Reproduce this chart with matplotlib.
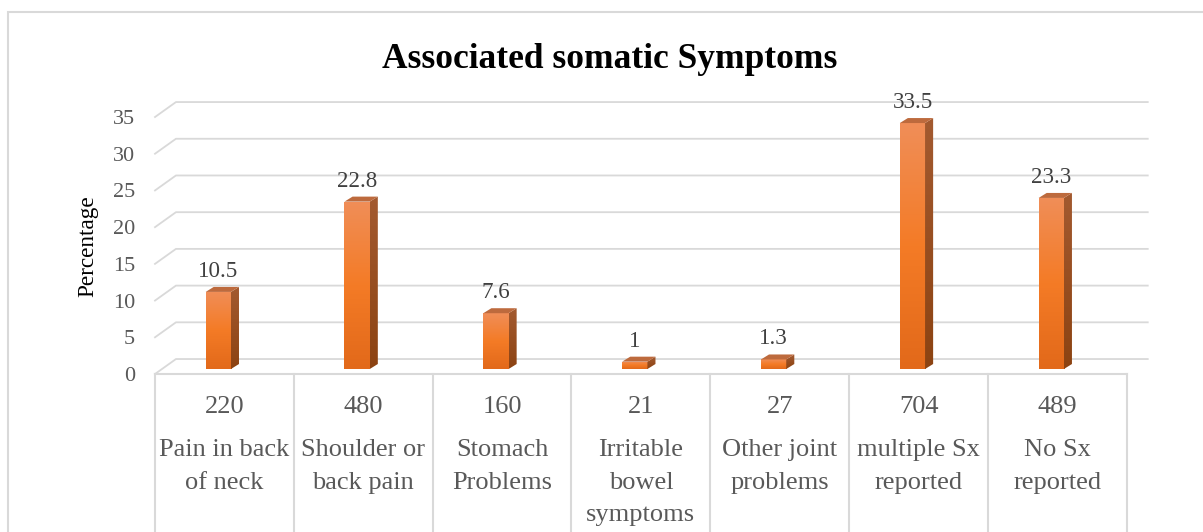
import numpy as np
import matplotlib.pyplot as plt
from matplotlib.patches import Rectangle, Polygon
from matplotlib.colors import LinearSegmentedColormap

categories = ['Pain in back\nof neck', 'Shoulder or\nback pain', 'Stomach\nProblems',
              'Irritable\nbowel\nsymptoms', 'Other joint\nproblems', 'multiple Sx\nreported',
              'No Sx\nreported']
counts = [220, 480, 160, 21, 27, 704, 489]
percent = [10.5, 22.8, 7.6, 1, 1.3, 33.5, 23.3]
yticks = [0, 5, 10, 15, 20, 25, 30, 35]

plt.rcParams['font.family'] = ['Liberation Serif', 'DejaVu Serif']

W, H = 1203, 532
fig = plt.figure(figsize=(W / 100, H / 100), dpi=100)
ax = fig.add_axes([155 / W, (H - 374) / H, (1149 - 155) / W, (374 - 95) / H])

# fake 3d: depth offset of the back wall and of a bar, in data units
DX, DY = 0.151, 2.04
BASE, X0, BW = 0.68, -0.135, 0.182
SD, SH = 0.058, 0.68
grid_c = '#D9D9D9'

for v in yticks:
    ax.plot([-0.5, -0.5 + DX, 6.5 + DX], [v, v + DY, v + DY], color=grid_c, lw=1.3,
            clip_on=False, zorder=1)

# table under the plot
ax.plot([-0.5, 6.5], [0, 0], color=grid_c, lw=1.5, clip_on=False, zorder=1)
for b in np.arange(-0.5, 7):
    ax.plot([b, b], [0, -0.7], color=grid_c, lw=1.5, transform=ax.get_xaxis_transform(),
            clip_on=False, zorder=1)

front_cmap = LinearSegmentedColormap.from_list('front', ['#E2691A', '#F47B26', '#F08E58'])
side_cmap = LinearSegmentedColormap.from_list('side', ['#8C4312', '#A35A30'])
grad = np.linspace(0, 1, 256).reshape(-1, 1)

for i, v in enumerate(percent):
    x0 = i + X0
    x1 = x0 + BW
    y0 = BASE
    y1 = BASE + v
    front = Rectangle((x0, y0), BW, v, facecolor='none', edgecolor='none', zorder=3)
    ax.add_patch(front)
    im = ax.imshow(grad, extent=(x0, x1, y0, y1), cmap=front_cmap, aspect='auto',
                   origin='lower', zorder=3)
    im.set_clip_path(front)
    side = Polygon([(x1, y0), (x1 + SD, y0 + SH), (x1 + SD, y1 + SH), (x1, y1)],
                   closed=True, facecolor='none', edgecolor='none', zorder=3)
    ax.add_patch(side)
    im2 = ax.imshow(grad, extent=(x1, x1 + SD, y0, y1 + SH), cmap=side_cmap, aspect='auto',
                    origin='lower', zorder=3)
    im2.set_clip_path(side)
    top = Polygon([(x0, y1), (x1, y1), (x1 + SD, y1 + SH), (x0 + SD, y1 + SH)],
                  closed=True, facecolor='#BD6A3D', edgecolor='none', zorder=4)
    ax.add_patch(top)
    ax.annotate('{:g}'.format(v), xy=(x0 + BW / 2, y1), xytext=(0, 15),
                textcoords='offset pixels', ha='center', va='baseline',
                fontsize=16.6, color='#404040')

for i, (c, lab) in enumerate(zip(counts, categories)):
    ax.annotate(str(c), xy=(i, 0), xycoords=('data', 'axes fraction'), xytext=(0, -39),
                textcoords='offset pixels', ha='center', va='baseline',
                fontsize=19, color='#595959')
    ax.annotate(lab, xy=(i, 0), xycoords=('data', 'axes fraction'), xytext=(0, -65),
                textcoords='offset pixels', ha='center', va='top',
                fontsize=19, color='#595959', linespacing=1.62)

ax.set_xlim(-0.5, 6.66)
ax.set_ylim(0, 38)
ax.set_xticks([])
ax.set_yticks(yticks)
ax.tick_params(axis='y', length=0, pad=14.4, labelsize=16, labelcolor='#595959')
for s in ax.spines.values():
    s.set_visible(False)
ax.patch.set_visible(False)

ax.text(-0.0674, 0.459, 'Percentage', rotation=90, transform=ax.transAxes,
        ha='center', va='center', fontsize=16.7, color='black')

fig.text(610 / W, 1 - 68 / H, 'Associated somatic Symptoms', ha='center', va='baseline',
         fontsize=25.5, fontweight='bold')

fig.add_artist(Rectangle((8 / W, -0.05), 1.1, 1 - 12 / H + 0.05, transform=fig.transFigure,
                         fill=False, edgecolor=grid_c, lw=1.5))

fig.savefig('out.png', dpi=100)
